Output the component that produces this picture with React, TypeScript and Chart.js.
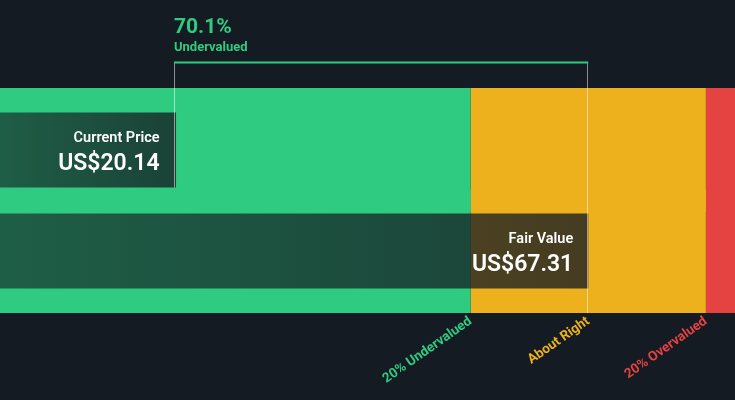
import { useEffect, useRef } from "react";
import { Chart, registerables } from "chart.js";

Chart.register(...registerables);

// ---- data ----
const categories = ["Current Price", "Fair Value"];
const priceValues = [20.14, 67.31];
const priceTexts = ["US$20.14", "US$67.31"];
const bandStarts = [0, 53.85, 80.77];
const bandEnds = [53.85, 80.77, 84.1];
const bandColors = ["#2ecb80", "#ecb11c", "#e54242"];
const tickValues = [53.85, 67.31, 80.77];
const tickLabels = ["20% Undervalued", "About Right", "20% Overvalued"];
const tickColors = ["#2ecb80", "#ecb11c", "#e54242"];
const discountValue = "70.1%";
const discountText = "Undervalued";

const BG = "#151b23";
const FONT = "Roboto, 'Noto Sans', sans-serif";

const annotatePlugin = {
  id: "annotate",
  afterDatasetsDraw(chart: any) {
    const ctx = chart.ctx;
    const xs = chart.scales.x;
    const bandMeta = chart.getDatasetMeta(0);
    const priceMeta = chart.getDatasetMeta(bandStarts.length);
    const bTop = bandMeta.data[0].y - bandMeta.data[0].height / 2;
    const bBot = bandMeta.data[1].y + bandMeta.data[1].height / 2;
    const xCur = xs.getPixelForValue(priceValues[0]) - 1.5;
    const xFair = xs.getPixelForValue(priceValues[1]);
    const bracketY = bTop - 25;
    const cur = priceMeta.data[0];
    const fair = priceMeta.data[1];

    ctx.save();
    // vertical guides
    ctx.strokeStyle = "rgba(255,255,255,0.5)";
    ctx.lineWidth = 1;
    ctx.beginPath();
    ctx.moveTo(Math.round(xCur) - 0.5, bracketY);
    ctx.lineTo(Math.round(xCur) - 0.5, cur.y + cur.height / 2);
    ctx.moveTo(Math.round(xFair) - 0.5, bracketY);
    ctx.lineTo(Math.round(xFair) - 0.5, bBot);
    ctx.stroke();
    // bracket line
    ctx.strokeStyle = bandColors[0];
    ctx.lineWidth = 2;
    ctx.beginPath();
    ctx.moveTo(Math.round(xCur) - 1, bracketY - 0.5);
    ctx.lineTo(xFair, bracketY - 0.5);
    ctx.stroke();

    // discount text
    ctx.fillStyle = bandColors[0];
    ctx.textAlign = "left";
    ctx.textBaseline = "alphabetic";
    ctx.font = `bold 21px ${FONT}`;
    ctx.fillText(discountValue, Math.round(xCur) - 1, bracketY - 30);
    ctx.font = `bold 13px ${FONT}`;
    ctx.fillText(discountText, Math.round(xCur) - 1, bracketY - 12);

    // bar texts
    ctx.fillStyle = "#ffffff";
    ctx.textAlign = "right";
    [cur, fair].forEach((el: any, i: number) => {
      const right = xs.getPixelForValue(priceValues[i]) - (i === 0 ? 16.5 : 15);
      ctx.font = `600 14.5px ${FONT}`;
      ctx.fillText(categories[i], right, el.y - 8);
      ctx.font = `600 23px ${FONT}`;
      ctx.fillText(priceTexts[i], right, el.y + 20);
    });
    ctx.restore();
  },
};

export default function App() {
  const ref = useRef<HTMLCanvasElement>(null);

  useEffect(() => {
    if (!ref.current) return;
    const bandSets = bandStarts.map((s, i) => ({
      label: tickLabels[i],
      data: categories.map(() => [s, bandEnds[i]]),
      backgroundColor: bandColors[i],
      borderWidth: 0,
      grouped: false,
      categoryPercentage: 1,
      barPercentage: 1.228,
      order: 2,
      clip: false as const,
    }));
    const priceSet = {
      label: "Price",
      data: priceValues,
      grouped: false,
      categoryPercentage: 1,
      barPercentage: 0.743,
      borderWidth: 0,
      order: 1,
      clip: false as const,
      backgroundColor: (c: any) => {
        const chart = c.chart;
        if (!chart.chartArea) return "rgba(21,27,35,0.7)";
        const xs = chart.scales.x;
        const x0 = xs.getPixelForValue(0);
        const x1 = xs.getPixelForValue(priceValues[c.dataIndex]);
        const g = chart.ctx.createLinearGradient(x0, 0, x1, 0);
        g.addColorStop(0, "rgba(21,27,35,0.62)");
        g.addColorStop(1, "rgba(21,27,35,0.78)");
        return g;
      },
    };

    const chart = new Chart(ref.current, {
      type: "bar",
      data: { labels: categories, datasets: [...bandSets, priceSet] as any },
      options: {
        indexAxis: "y",
        animation: false,
        responsive: false,
        events: [],
        layout: { padding: { top: 99.5, left: 0, right: 0, bottom: 0 }, autoPadding: false } as any,
        plugins: { legend: { display: false }, tooltip: { enabled: false } },
        scales: {
          y: { type: "category", display: false },
          x: {
            type: "linear",
            min: 0,
            max: 84.1,
            grid: { display: false, drawTicks: false },
            border: { display: false },
            afterBuildTicks: (s: any) => {
              s.ticks = tickValues.map((v) => ({ value: v }));
            },
            afterFit: (s: any) => {
              s.height = 98.5;
              s.paddingLeft = 0;
              s.paddingRight = 0;
            },
            ticks: {
              autoSkip: false,
              minRotation: 35,
              maxRotation: 35,
              padding: 12,
              color: (c: any) => tickColors[c.index],
              font: { family: FONT, size: 13.5, weight: "bold" },
              callback: (_v: any, i: number) => tickLabels[i],
            },
          } as any,
        },
      },
      plugins: [annotatePlugin],
    });
    return () => chart.destroy();
  }, []);

  return (
    <div style={{ position: "fixed", left: 0, top: 0, width: 735, height: 400, background: BG }}>
      <canvas ref={ref} width={735} height={400} style={{ display: "block" }} />
    </div>
  );
}
